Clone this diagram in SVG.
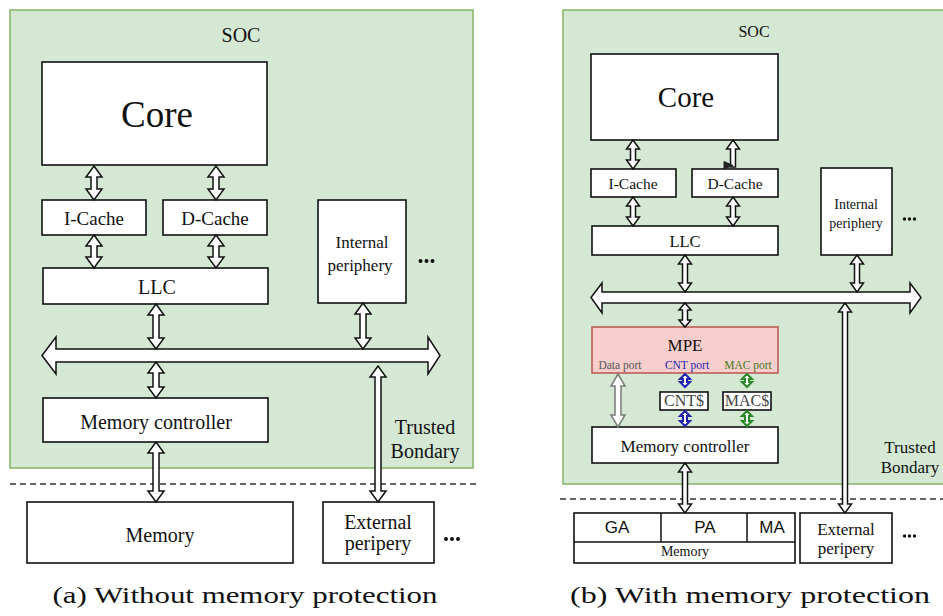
<svg xmlns="http://www.w3.org/2000/svg" width="943" height="616" viewBox="0 0 943 616">
  <style>
    .soc { fill: #d5e8d4; stroke: #82b366; stroke-width: 1.5; }
    .box { fill: #ffffff; stroke: #111; stroke-width: 1.6; }
    .mpe { fill: #f8cecc; stroke: #b85450; stroke-width: 1.5; }
    .t { font-family: "Liberation Serif", "Times New Roman", serif; fill: #111; text-anchor: middle; }
    .s { font-family: "Liberation Sans", Arial, sans-serif; fill: #111; text-anchor: middle; }
    .arr { fill: #ffffff; stroke: #111; stroke-width: 1.5; stroke-linejoin: miter; }
    .garr { fill: #ffffff; stroke: #7a7a7a; stroke-width: 1.5; }
    .barr { fill: #ffffff; stroke: #2323b0; stroke-width: 2; }
    .grarr { fill: #ffffff; stroke: #2a8a2a; stroke-width: 2; }
    .dash { stroke: #333; stroke-width: 1.3; stroke-dasharray: 6 4; fill: none; }
    .dot { fill: #111; }
    .cap { font-family: "Liberation Serif", "Times New Roman", serif; fill: #111; text-anchor: middle; }
  </style>

  <!-- ===== Panel (a): without memory protection ===== -->
  <g id="soc-a">
    <rect class="soc" x="10" y="10" width="463" height="458"/>
    <text class="t" x="241" y="42" font-size="20">SOC</text>
    <text class="t" x="425" y="434" font-size="20">Trusted</text>
    <text class="t" x="425" y="458" font-size="20">Bondary</text>
  </g>
  <g id="core-a">
    <rect class="box" x="42" y="62" width="225" height="103"/>
    <text class="t" x="157" y="127" font-size="37">Core</text>
  </g>
  <g id="icache-a">
    <rect class="box" x="42" y="200" width="104" height="35"/>
    <text class="t" x="94" y="225" font-size="19">I-Cache</text>
  </g>
  <g id="dcache-a">
    <rect class="box" x="163" y="200" width="104" height="35"/>
    <text class="t" x="215" y="225" font-size="19">D-Cache</text>
  </g>
  <g id="llc-a">
    <rect class="box" x="43" y="268" width="225" height="36"/>
    <text class="t" x="157" y="294" font-size="20">LLC</text>
  </g>
  <g id="intper-a">
    <rect class="box" x="318" y="200" width="88" height="103"/>
    <text class="t" x="362" y="248" font-size="17">Internal</text>
    <text class="t" x="360" y="271" font-size="17">periphery</text>
    <circle class="dot" cx="420.5" cy="261" r="2"/>
    <circle class="dot" cx="426.5" cy="261" r="2"/>
    <circle class="dot" cx="432.5" cy="261" r="2"/>
  </g>
  <g id="memctrl-a">
    <rect class="box" x="43" y="398" width="225" height="44"/>
    <text class="t" x="156" y="429" font-size="20">Memory controller</text>
  </g>
  <g id="memory-a">
    <rect class="box" x="27" y="502" width="266" height="61"/>
    <text class="t" x="160" y="542" font-size="20">Memory</text>
  </g>
  <g id="extper-a">
    <rect class="box" x="323" y="502" width="111" height="61"/>
    <text class="t" x="378" y="529" font-size="20">External</text>
    <text class="t" x="378" y="550" font-size="20">peripery</text>
    <circle class="dot" cx="446" cy="539" r="2"/>
    <circle class="dot" cx="452" cy="539" r="2"/>
    <circle class="dot" cx="458" cy="539" r="2"/>
  </g>
  <line class="dash" x1="10" y1="484" x2="480" y2="484"/>
  <text class="cap" x="245" y="603" font-size="23" textLength="385" lengthAdjust="spacingAndGlyphs">(a) Without memory protection</text>

  <g id="connectors-a">
    <path class="arr" d="M42,355.5 L56,337 L56,349 L428,349 L428,337 L440,355.5 L428,374 L428,362 L56,362 L56,374 Z"/>
    <path class="arr" d="M94,166 L102,177 L97,177 L97,189 L102,189 L94,200 L86,189 L91,189 L91,177 L86,177 Z"/>
    <path class="arr" d="M216,166 L224,177 L219,177 L219,189 L224,189 L216,200 L208,189 L213,189 L213,177 L208,177 Z"/>
    <path class="arr" d="M94,235 L102,246 L97,246 L97,257 L102,257 L94,268 L86,257 L91,257 L91,246 L86,246 Z"/>
    <path class="arr" d="M216,235 L224,246 L219,246 L219,257 L224,257 L216,268 L208,257 L213,257 L213,246 L208,246 Z"/>
    <path class="arr" d="M156,304 L164,315 L159,315 L159,338 L164,338 L156,349 L148,338 L153,338 L153,315 L148,315 Z"/>
    <path class="arr" d="M363,303 L371,314 L366,314 L366,338 L371,338 L363,349 L355,338 L360,338 L360,314 L355,314 Z"/>
    <path class="arr" d="M156,362 L164,373 L159,373 L159,387 L164,387 L156,398 L148,387 L153,387 L153,373 L148,373 Z"/>
    <path class="arr" d="M156,442 L164,453 L159,453 L159,491 L164,491 L156,502 L148,491 L153,491 L153,453 L148,453 Z"/>
    <path class="arr" d="M378,366 L386,377 L381,377 L381,491 L386,491 L378,502 L370,491 L375,491 L375,377 L370,377 Z"/>
  </g>

  <!-- ===== Panel (b): with memory protection ===== -->
  <g id="soc-b">
    <rect class="soc" x="563" y="10" width="390" height="474"/>
    <text class="t" x="754" y="37" font-size="16">SOC</text>
    <text class="t" x="910" y="453" font-size="17">Trusted</text>
    <text class="t" x="910" y="473" font-size="17">Bondary</text>
  </g>
  <g id="core-b">
    <rect class="box" x="591" y="54" width="187" height="86"/>
    <text class="t" x="686" y="107" font-size="29">Core</text>
  </g>
  <g id="icache-b">
    <rect class="box" x="591" y="169" width="85" height="28"/>
    <text class="t" x="633" y="189" font-size="15.5">I-Cache</text>
  </g>
  <g id="dcache-b">
    <rect class="box" x="692" y="169" width="86" height="28"/>
    <text class="t" x="735" y="189" font-size="15.5">D-Cache</text>
  </g>
  <g id="llc-b">
    <rect class="box" x="592" y="226" width="186" height="29"/>
    <text class="t" x="685" y="247" font-size="16.5">LLC</text>
  </g>
  <g id="intper-b">
    <rect class="box" x="821" y="168" width="71" height="87"/>
    <text class="t" x="856" y="209" font-size="14">Internal</text>
    <text class="t" x="856" y="228" font-size="14">periphery</text>
    <circle class="dot" cx="904.5" cy="219" r="1.7"/>
    <circle class="dot" cx="909.5" cy="219" r="1.7"/>
    <circle class="dot" cx="914.5" cy="219" r="1.7"/>
  </g>
  <g id="mpe-b">
    <rect class="mpe" x="592" y="327" width="186" height="46"/>
    <text class="t" x="685" y="351" font-size="17">MPE</text>
    <text class="t" x="620" y="369" font-size="11.5" style="fill:#555">Data port</text>
    <text class="t" x="687" y="369" font-size="11.5" style="fill:#2323b0">CNT port</text>
    <text class="t" x="748" y="369" font-size="11.5" style="fill:#3d7a1c">MAC port</text>
  </g>
  <g id="cntcache-b">
    <rect class="box" x="660" y="392" width="48" height="18"/>
    <text class="t" x="684" y="406" font-size="16" style="fill:#444">CNT$</text>
  </g>
  <g id="maccache-b">
    <rect class="box" x="723" y="392" width="48" height="18"/>
    <text class="t" x="747" y="406" font-size="16" style="fill:#444">MAC$</text>
  </g>
  <g id="memctrl-b">
    <rect class="box" x="592" y="427" width="186" height="36"/>
    <text class="t" x="685" y="452" font-size="17">Memory controller</text>
  </g>
  <g id="memory-b">
    <rect class="box" x="574" y="513" width="221" height="50"/>
    <line x1="574" y1="542" x2="795" y2="542" stroke="#111" stroke-width="1.5"/>
    <line x1="661" y1="513" x2="661" y2="542" stroke="#111" stroke-width="1.5"/>
    <line x1="747" y1="513" x2="747" y2="542" stroke="#111" stroke-width="1.5"/>
    <text class="s" x="617" y="533" font-size="17">GA</text>
    <text class="s" x="705" y="533" font-size="17">PA</text>
    <text class="s" x="772" y="533" font-size="17">MA</text>
    <text class="t" x="685" y="556" font-size="14">Memory</text>
  </g>
  <g id="extper-b">
    <rect class="box" x="800" y="513" width="92" height="50"/>
    <text class="t" x="846" y="535" font-size="17">External</text>
    <text class="t" x="846" y="554" font-size="17">peripery</text>
    <circle class="dot" cx="904.5" cy="536" r="1.7"/>
    <circle class="dot" cx="909.5" cy="536" r="1.7"/>
    <circle class="dot" cx="914.5" cy="536" r="1.7"/>
  </g>
  <line class="dash" x1="560" y1="499" x2="943" y2="499"/>
  <text class="cap" x="750" y="603" font-size="23" textLength="360" lengthAdjust="spacingAndGlyphs">(b) With memory protection</text>

  <g id="connectors-b">
    <path class="arr" d="M591,297.5 L602,283 L602,292 L910,292 L910,283 L921,297.5 L910,313 L910,303 L602,303 L602,313 Z"/>
    <path class="arr" d="M633,140 L639.5,149 L635.5,149 L635.5,160 L639.5,160 L633,169 L626.5,160 L630.5,160 L630.5,149 L626.5,149 Z"/>
    <path class="arr" d="M733,140 L739.5,149 L735.5,149 L735.5,167 L730.5,167 L730.5,149 L726.5,149 Z"/>
    <path d="M724,161.5 L733,165.5 L724,169 Z" fill="#222" stroke="#222" stroke-width="1"/>
    <path class="arr" d="M633,197 L639.5,206 L635.5,206 L635.5,217 L639.5,217 L633,226 L626.5,217 L630.5,217 L630.5,206 L626.5,206 Z"/>
    <path class="arr" d="M733,197 L739.5,206 L735.5,206 L735.5,217 L739.5,217 L733,226 L726.5,217 L730.5,217 L730.5,206 L726.5,206 Z"/>
    <path class="arr" d="M685,255 L691.5,264 L687.5,264 L687.5,283 L691.5,283 L685,292 L678.5,283 L682.5,283 L682.5,264 L678.5,264 Z"/>
    <path class="arr" d="M857,255 L863.5,264 L859.5,264 L859.5,283 L863.5,283 L857,292 L850.5,283 L854.5,283 L854.5,264 L850.5,264 Z"/>
    <path class="arr" d="M685,303 L691,310 L687.5,310 L687.5,320 L691,320 L685,327 L679,320 L682.5,320 L682.5,310 L679,310 Z"/>
    <path class="arr" d="M685,463 L691.5,472 L687.5,472 L687.5,504 L691.5,504 L685,513 L678.5,504 L682.5,504 L682.5,472 L678.5,472 Z"/>
    <path class="arr" d="M845,303 L851.5,312 L847.5,312 L847.5,504 L851.5,504 L845,513 L838.5,504 L842.5,504 L842.5,312 L838.5,312 Z"/>
    <path class="garr" d="M618,374 L625,386 L621,386 L621,415 L625,415 L618,427 L611,415 L615,415 L615,386 L611,386 Z"/>
    <path class="barr" d="M685,374 L690,379 L687,379 L687,382 L690,382 L685,387 L680,382 L683,382 L683,379 L680,379 Z"/>
    <path class="barr" d="M685,411 L690,416 L687,416 L687,421 L690,421 L685,426 L680,421 L683,421 L683,416 L680,416 Z"/>
    <path class="grarr" d="M747,374 L752,379 L749,379 L749,382 L752,382 L747,387 L742,382 L745,382 L745,379 L742,379 Z"/>
    <path class="grarr" d="M747,411 L752,416 L749,416 L749,421 L752,421 L747,426 L742,421 L745,421 L745,416 L742,416 Z"/>
  </g>
</svg>
